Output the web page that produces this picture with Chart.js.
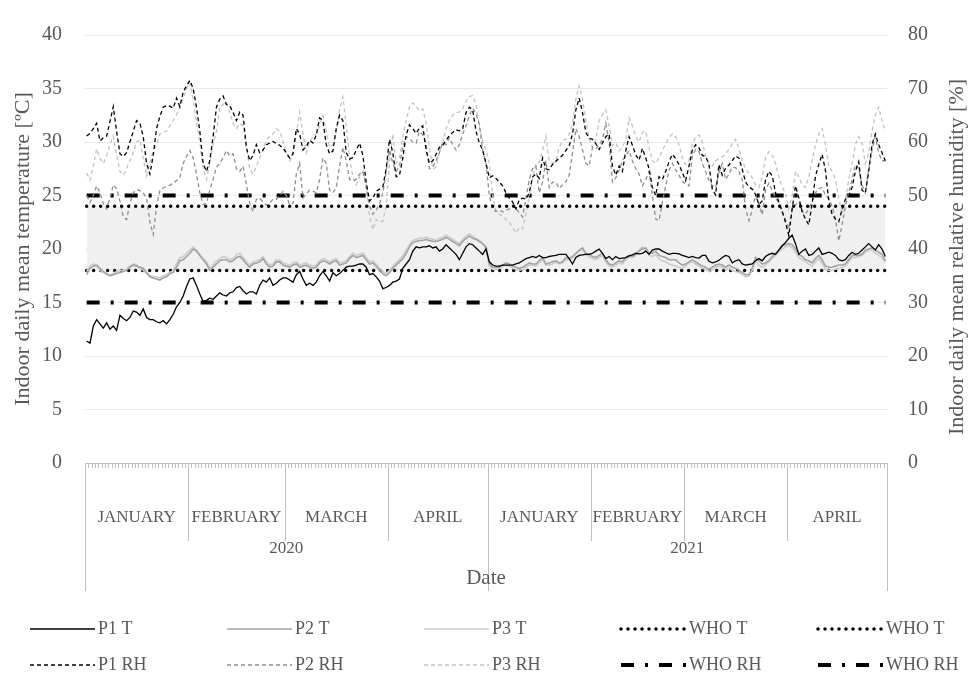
<!DOCTYPE html>
<html>
<head>
<meta charset="utf-8">
<script src="https://cdn.jsdelivr.net/npm/chart.js@4.4.1/dist/chart.umd.min.js"></script>
<style>
  html, body { margin: 0; padding: 0; background: #fff; }
  #wrap { width: 971px; height: 682px; position: relative; }
</style>
</head>
<body>
<div id="wrap"><canvas id="chart"></canvas></div>
<script>
const years = ['2020', '2021'];
const monthNames = ['JANUARY', 'FEBRUARY', 'MARCH', 'APRIL'];
const monthDays = [[31, 29, 31, 30], [31, 28, 31, 30]];

// daily mean temperature, ºC
const p1T = [
  11.4, 11.2, 12.8, 13.4, 13.0, 12.6, 13.1, 12.5, 12.8, 12.4,
  13.8, 13.5, 13.3, 13.6, 14.2, 14.1, 13.8, 14.4, 13.6, 13.4,
  13.4, 13.2, 13.1, 13.3, 13.0, 13.4, 13.9, 14.6, 15.0, 15.6,
  16.5, 17.2, 17.3, 16.6, 15.8, 15.1, 15.2, 15.4, 15.3, 15.6,
  15.9, 15.7, 15.6, 15.9, 16.0, 16.4, 16.5, 16.1, 15.8, 16.0,
  16.0, 15.8, 16.6, 17.1, 16.9, 17.3, 16.6, 16.8, 17.1, 17.3,
  17.3, 17.1, 16.9, 17.6, 17.9, 17.2, 16.6, 16.8, 16.6, 16.9,
  17.5, 17.9, 17.5, 17.0, 17.8, 17.5, 17.7, 18.0, 18.3, 18.4,
  18.4, 18.5, 18.6, 18.6, 18.3, 17.6, 17.7, 17.4, 17.0, 16.3,
  16.4, 16.6, 16.9, 17.0, 17.2, 18.2, 18.6, 19.0, 19.8, 20.2,
  20.1, 20.2, 20.2, 20.3, 20.1, 20.2, 19.8, 20.0, 20.4, 20.1,
  19.8, 19.5, 19.0, 19.6, 20.2, 20.5, 20.4, 20.1, 19.8, 19.5,
  20.0, 18.8, 18.5, 18.4, 18.4, 18.5, 18.5, 18.5, 18.5, 18.6,
  18.7, 18.9, 19.1, 19.2, 19.3, 19.2, 19.4, 19.2, 19.2, 19.3,
  19.35, 19.4, 19.5, 19.5, 19.5, 19.1, 18.6, 19.2, 19.4, 19.45,
  19.5, 19.5, 19.6, 19.8, 20.0, 19.6, 19.1, 19.3, 19.0, 19.3,
  19.1, 19.15, 19.2, 19.35, 19.45, 19.6, 19.55, 19.6, 19.8, 19.5,
  19.9, 20.0, 20.0, 19.8, 19.65, 19.5, 19.6, 19.6, 19.55, 19.4,
  19.3, 19.2, 19.3, 19.2, 19.15, 19.4, 19.4, 18.85, 18.7, 18.8,
  18.95, 19.2, 19.4, 19.3, 18.7, 18.9, 19.0, 18.6, 18.5, 18.55,
  18.6, 18.9, 19.1, 18.9, 19.3, 19.5, 19.6, 19.5, 19.9, 20.3,
  20.6, 21.0, 21.3, 20.5, 19.5, 19.8, 20.0, 19.4, 19.5, 19.8,
  20.1, 19.5, 19.6, 19.7, 19.6, 19.4, 19.0, 18.9, 19.0, 19.4,
  19.7, 19.5, 19.6, 19.9, 20.2, 20.5, 20.2, 19.9, 20.4, 20.0,
  19.3
];
const p2T = [
  17.6, 18.2, 18.4, 18.5, 18.2, 17.9, 17.7, 17.5, 17.6, 17.7,
  17.8, 17.9, 18.0, 18.3, 18.5, 18.4, 18.3, 18.2, 17.8, 17.4,
  17.3, 17.2, 17.1, 17.3, 17.4, 17.7, 17.8, 18.3, 18.9, 19.0,
  19.3, 19.6, 20.0, 19.8, 19.4, 19.0, 18.6, 18.0, 18.3, 18.6,
  18.9, 19.0, 19.0, 18.8, 18.9, 19.2, 19.3, 19.0, 18.6, 18.3,
  18.6, 18.7, 18.8, 19.1, 18.6, 18.3, 18.4, 18.8, 18.8, 18.5,
  18.4, 18.3, 18.5, 18.6, 18.3, 18.4, 18.5, 18.3, 18.2, 18.3,
  18.7, 18.9, 18.8, 18.6, 18.8, 18.9, 18.5, 18.6, 18.7, 19.1,
  19.4, 19.2, 19.3, 19.4, 19.0, 18.6, 18.7, 18.4, 18.0, 17.7,
  17.5, 17.8, 18.2, 18.5, 18.8, 19.1, 19.6, 20.2, 20.6, 20.7,
  20.8, 20.8, 20.9, 20.8, 20.7, 20.7, 20.8, 20.9, 21.1, 20.9,
  20.7, 20.5, 20.3, 20.7, 21.0, 21.2, 21.0, 20.9, 20.7, 20.5,
  20.2, 18.6, 18.3, 18.3, 18.3, 18.5, 18.7, 18.6, 18.4, 18.3,
  18.2, 18.3, 18.5, 18.7, 18.6, 18.6, 18.9, 19.2, 18.6, 18.7,
  18.8, 18.9, 18.7, 18.8, 19.2, 19.1, 19.3, 19.6, 19.9, 20.1,
  19.6, 19.5, 19.3, 19.2, 19.4, 19.6, 19.0, 18.6, 18.5, 18.7,
  18.9, 18.8, 19.2, 19.4, 19.3, 19.5, 19.8, 20.0, 20.1, 19.6,
  19.6, 19.8, 19.4, 19.3, 19.2, 19.0, 19.0, 19.0, 18.7, 18.5,
  18.6, 18.8, 19.0, 18.8, 18.6, 18.4, 18.3, 18.1, 18.3, 18.5,
  18.6, 18.5, 18.3, 18.5, 18.3, 18.2, 18.0, 17.8, 17.6, 17.6,
  18.2, 19.2, 18.9, 18.6, 18.7, 18.9, 19.3, 19.6, 19.9, 20.3,
  20.4, 20.5, 20.4, 20.0, 19.5, 19.3, 19.0, 18.9, 18.7, 19.1,
  19.4, 19.0, 18.4, 18.3, 18.3, 18.4, 18.5, 18.5, 18.6, 19.0,
  19.4, 19.4, 19.4, 19.5, 19.9, 20.0, 20.1, 19.9, 19.7, 19.5,
  18.9
];
const p3T = [
  17.9, 18.4, 18.6, 18.4, 18.0, 17.8, 17.6, 17.6, 17.7, 17.9,
  18.0, 18.0, 18.1, 18.4, 18.6, 18.5, 18.2, 18.0, 17.7, 17.5,
  17.4, 17.4, 17.3, 17.5, 17.6, 17.8, 18.0, 18.6, 19.2, 19.3,
  19.6, 19.9, 20.2, 19.9, 19.5, 19.1, 18.8, 18.2, 18.5, 18.9,
  19.1, 19.3, 19.2, 19.0, 19.1, 19.5, 19.6, 19.2, 18.8, 18.5,
  18.8, 18.9, 19.0, 19.3, 18.8, 18.5, 18.6, 19.0, 19.0, 18.7,
  18.6, 18.5, 18.7, 18.8, 18.5, 18.6, 18.7, 18.5, 18.4, 18.5,
  18.9, 19.1, 19.0, 18.8, 19.0, 19.1, 18.7, 18.8, 18.9, 19.3,
  19.6, 19.4, 19.5, 19.6, 19.2, 18.8, 18.9, 18.6, 18.2, 17.9,
  17.7, 18.0, 18.4, 18.7, 19.0, 19.4, 19.9, 20.4, 20.8, 20.9,
  21.0, 21.0, 21.1, 21.0, 20.9, 20.8, 21.0, 21.1, 21.3, 21.1,
  20.9, 20.7, 20.5, 20.9, 21.2, 21.4, 21.2, 21.0, 20.8, 20.5,
  20.0, 18.4, 18.1, 18.1, 18.2, 18.4, 18.5, 18.4, 18.2, 18.1,
  18.0, 18.1, 18.3, 18.5, 18.5, 18.4, 18.7, 19.0, 18.5, 18.5,
  18.6, 18.8, 18.6, 18.7, 19.0, 19.0, 19.2, 19.5, 19.8, 19.9,
  19.5, 19.3, 19.1, 19.0, 19.2, 19.4, 18.8, 18.4, 18.3, 18.5,
  18.7, 18.6, 19.0, 19.2, 19.2, 19.4, 19.9, 20.2, 19.9, 19.4,
  19.3, 19.5, 19.1, 18.9, 18.8, 18.6, 18.5, 18.4, 18.3, 18.2,
  18.4, 18.7, 18.8, 18.6, 18.4, 18.2, 18.1, 17.9, 18.1, 18.3,
  18.4, 18.3, 18.1, 18.2, 18.0, 17.9, 17.8, 17.6, 17.4, 17.5,
  18.0, 18.9, 18.5, 18.3, 18.5, 18.8, 19.1, 19.4, 19.7, 20.0,
  20.2, 20.3, 20.1, 19.7, 19.2, 19.0, 18.8, 18.6, 18.4, 18.8,
  19.1, 18.7, 18.1, 18.0, 18.0, 18.1, 18.2, 18.3, 18.4, 18.8,
  19.2, 19.2, 19.3, 19.4, 19.7, 19.9, 19.9, 19.6, 19.4, 19.2,
  18.7
];

// daily mean relative humidity, %
const p1RH = [
  61.1, 61.6, 62.5, 63.5, 60.2, 60.8, 61.1, 63.8, 66.6, 62.0,
  57.8, 57.3, 58.0, 60.0, 62.0, 64.0, 63.5, 61.0, 56.0, 54.0,
  57.5, 62.5, 64.8, 66.5, 66.8, 66.7, 66.3, 68.2, 66.6, 69.3,
  70.5, 71.5, 70.0, 66.5, 62.0, 56.0, 54.5, 56.5, 61.0, 66.5,
  68.0, 68.6, 67.0, 66.8, 65.5, 64.0, 65.6, 65.0, 59.0, 56.5,
  57.5, 59.5, 58.0, 58.5, 59.5, 59.8, 60.1, 59.7, 59.4, 58.8,
  58.0, 57.0, 57.8, 62.5, 61.5, 58.5, 59.2, 60.3, 59.8, 61.3,
  64.5, 64.0, 59.5, 57.8, 58.3, 62.5, 65.0, 64.0, 58.0, 56.8,
  57.1, 58.5, 59.8, 57.5, 52.5, 49.0, 49.5, 50.8, 51.2, 51.6,
  55.0, 60.5, 58.0, 53.5, 53.8, 57.0, 61.3, 63.2, 62.5, 61.6,
  62.6, 63.0, 58.5, 56.0, 56.5, 57.7, 59.0, 59.4, 60.3, 61.2,
  61.8, 62.3, 62.1, 62.5, 65.5, 66.5, 66.0, 62.0, 59.8, 58.5,
  56.0, 53.3, 53.7, 53.2, 52.5, 51.8, 50.5, 49.5, 48.8, 47.5,
  49.2, 49.5, 49.3, 50.5, 53.5, 54.0, 53.2, 57.0, 55.0, 54.8,
  55.8, 56.4, 57.0, 57.5, 58.4, 59.3, 61.5, 66.0, 68.2, 65.5,
  61.8, 60.7, 60.5, 59.7, 58.6, 59.8, 61.0, 61.5, 55.5, 53.8,
  55.5, 54.5, 58.4, 61.0, 59.4, 57.6, 56.6, 58.8, 57.0, 55.0,
  51.5, 50.0, 53.5, 53.0, 54.5, 56.3, 57.7, 56.9, 55.8, 54.3,
  52.8, 55.5, 58.5, 59.5, 58.9, 57.5, 57.3, 55.8, 51.2, 50.1,
  55.8, 53.8, 55.1, 55.7, 56.5, 57.4, 57.0, 54.9, 52.5, 51.6,
  51.2, 50.2, 48.3, 49.0, 52.9, 54.5, 53.7, 50.5, 48.8, 47.0,
  45.0, 42.5, 47.5, 51.8, 49.6, 47.0, 45.6, 44.5, 48.5, 53.6,
  55.8, 57.7, 54.7, 49.0, 46.5, 45.6, 45.1, 47.4, 49.3, 49.9,
  51.5, 54.5, 56.3, 51.0, 50.5, 54.5, 59.5, 61.5, 59.5, 58.0,
  56.5
];
const p2RH = [
  50.0, 48.7, 50.0, 51.8, 50.5, 48.5, 47.5, 49.5, 52.0, 51.3,
  49.0, 46.0, 45.5, 48.5, 50.5, 51.1, 50.9, 50.5, 49.5, 45.0,
  42.7, 48.0, 51.0, 51.4, 51.7, 51.9, 52.3, 52.8, 53.3, 56.0,
  57.3, 58.4, 57.0, 54.0, 50.5, 48.3, 48.6, 51.0, 53.0, 55.3,
  56.0, 57.0, 58.4, 57.4, 57.8, 55.0, 54.5, 55.5, 52.0, 48.5,
  47.0, 49.3, 49.5, 48.8, 48.2, 48.6, 49.3, 49.3, 50.0, 50.8,
  50.0, 48.3, 48.5, 54.0, 56.0, 49.5, 50.3, 51.0, 50.8, 50.5,
  53.0, 57.0, 56.0, 51.0, 50.5, 51.5, 55.5, 59.0, 56.5, 53.0,
  52.7, 53.0, 54.0, 54.5, 51.5, 48.2, 46.5, 47.2, 48.5, 50.5,
  54.5, 58.5, 56.0, 54.5, 55.5, 59.0, 61.0, 60.7, 60.0, 59.8,
  62.0, 61.3, 59.5, 55.0, 55.3, 56.5, 58.0, 60.0, 59.5, 60.8,
  59.5, 58.5, 59.5, 61.5, 63.0, 65.0, 66.3, 65.3, 63.3, 58.5,
  56.0, 50.0, 47.5, 47.0, 47.3, 46.9, 47.2, 47.5, 48.2, 47.5,
  46.8, 46.0, 49.5, 53.0, 55.0, 55.5, 50.5, 52.5, 56.5, 51.5,
  52.5, 52.5, 51.3, 52.0, 52.6, 53.8, 58.0, 62.5, 61.0, 58.5,
  56.0, 55.5, 59.0, 58.7, 59.5, 60.5, 63.5, 60.0, 52.5, 53.3,
  54.7, 56.5, 57.5, 58.4, 56.5, 55.0, 54.0, 51.8, 52.9, 54.5,
  50.0, 45.6, 45.3, 48.7, 51.8, 54.7, 56.0, 54.8, 53.8, 52.6,
  52.2, 51.8, 57.3, 58.6, 58.2, 56.0, 54.5, 52.8, 51.8, 51.5,
  54.2, 56.0, 53.0, 54.0, 55.3, 55.2, 54.5, 53.0, 47.5, 45.3,
  47.3, 50.0, 48.5, 46.4, 51.0, 52.3, 51.0, 49.5, 48.7, 47.0,
  45.5, 43.8, 47.5, 48.3, 48.7, 47.0, 46.5, 47.5, 48.8, 50.5,
  51.3, 51.5, 50.0, 49.5, 48.0, 45.6, 41.5, 44.5, 48.0, 50.5,
  53.0, 55.8, 55.0, 52.0, 50.5, 55.0, 58.5, 61.0, 58.0, 56.5,
  56.5
];
const p3RH = [
  54.2, 52.9, 55.5, 58.7, 57.0, 56.0, 57.5, 59.5, 61.1, 57.5,
  54.5, 53.8, 55.0, 56.5, 58.0, 60.0, 60.5, 57.0, 53.6, 56.0,
  58.4, 59.5, 61.5, 61.8, 62.0, 63.0, 64.0, 65.1, 66.5, 68.0,
  70.0, 71.1, 68.0, 63.5, 60.0, 55.0, 53.0, 56.0, 59.5, 62.0,
  66.5, 67.0, 67.5, 65.5, 63.5, 62.5, 63.5, 63.0, 59.0, 55.0,
  54.0, 55.5, 57.0, 58.5, 60.5, 61.0, 61.5, 62.5, 62.0, 60.0,
  58.0, 56.5, 57.5, 61.5, 65.6, 61.5, 58.0, 60.0, 61.0, 61.5,
  63.0, 65.0, 62.0, 59.0, 59.5, 62.0, 66.0, 68.4, 63.0, 57.0,
  53.5, 52.0, 53.5, 54.5, 52.0, 46.0, 43.6, 45.5, 45.0, 45.2,
  48.0, 56.0, 61.5, 56.0, 57.0, 61.0, 64.0, 66.5, 67.3, 66.6,
  65.8, 66.2, 63.5, 59.0, 55.0, 55.3, 58.0, 59.8, 62.5, 64.0,
  65.0, 65.5, 65.6, 66.3, 67.6, 68.5, 68.7, 67.0, 63.0, 60.0,
  58.5, 56.0, 50.0, 47.0, 46.5, 46.2, 45.5, 45.0, 44.0, 43.0,
  44.0, 43.8, 46.5, 50.0, 53.0, 56.0, 56.2, 58.5, 61.1, 56.5,
  56.0, 56.4, 59.0, 60.2, 60.6, 61.5, 63.5, 68.0, 70.5, 68.0,
  64.0, 60.5, 59.0, 60.5, 64.0, 65.1, 66.0, 63.0, 59.3, 59.8,
  58.4, 59.0, 60.5, 64.5, 63.0, 61.0, 60.0, 61.8, 62.0, 59.0,
  56.5, 56.0, 57.0, 58.5, 59.6, 60.8, 61.5, 61.0, 59.5, 57.0,
  55.8, 56.5, 59.5, 61.0, 61.3, 60.0, 57.5, 56.0, 55.5, 56.5,
  56.9, 57.2, 57.8, 58.6, 59.6, 60.5, 58.8, 56.5, 55.0, 54.2,
  53.3, 52.0, 51.5, 53.5, 57.0, 58.2, 57.5, 56.0, 53.5, 51.5,
  50.5, 47.5, 50.0, 54.5, 53.5, 52.0, 51.5, 53.5, 56.5, 59.5,
  61.5, 62.5, 59.5, 55.5, 54.5, 53.0, 49.5, 46.5, 49.0, 53.0,
  56.0, 59.5, 61.0, 59.8, 56.0, 58.0, 62.0, 65.0, 66.5, 64.0,
  62.0
];

// WHO recommended limits
const whoT = [24, 18];
const whoRH = [50, 30];

// build the day categories plus the month / year groups for the axis
const labels = [];
const monthGroups = [];
const yearGroups = [];
years.forEach((year, yi) => {
  const yStart = labels.length;
  monthNames.forEach((name, mi) => {
    const mStart = labels.length;
    for (let day = 1; day <= monthDays[yi][mi]; day++) {
      labels.push(day + ' ' + name + ' ' + year);
    }
    monthGroups.push({ name: name, start: mStart, end: labels.length });
  });
  yearGroups.push({ name: year, start: yStart, end: labels.length });
});

const grey = '#595959';
const serif = "'Liberation Serif', 'Times New Roman', serif";
const flat = v => labels.map(() => v);

const datasets = [
  { label: 'P1 T', data: p1T, yAxisID: 'y', borderColor: '#000000', borderWidth: 1.3 },
  { label: 'P2 T', data: p2T, yAxisID: 'y', borderColor: '#a3a3a3', borderWidth: 1.6 },
  { label: 'P3 T', data: p3T, yAxisID: 'y', borderColor: '#cccccc', borderWidth: 1.6 },
  { label: 'WHO T', data: flat(whoT[0]), yAxisID: 'y', borderColor: '#000000', borderWidth: 3.5,
    borderDash: [0, 7], borderCapStyle: 'round', fill: '+1', backgroundColor: '#f0f0f0' },
  { label: 'WHO T', data: flat(whoT[1]), yAxisID: 'y', borderColor: '#000000', borderWidth: 3.5,
    borderDash: [0, 7], borderCapStyle: 'round' },
  { label: 'P1 RH', data: p1RH, yAxisID: 'y1', borderColor: '#000000', borderWidth: 1.3, borderDash: [4, 3] },
  { label: 'P2 RH', data: p2RH, yAxisID: 'y1', borderColor: '#8f8f8f', borderWidth: 1.3, borderDash: [4, 3] },
  { label: 'P3 RH', data: p3RH, yAxisID: 'y1', borderColor: '#c3c3c3', borderWidth: 1.3, borderDash: [4, 3] },
  { label: 'WHO RH', data: flat(whoRH[0]), yAxisID: 'y1', borderColor: '#000000', borderWidth: 4,
    borderDash: [13, 11, 3, 11] },
  { label: 'WHO RH', data: flat(whoRH[1]), yAxisID: 'y1', borderColor: '#000000', borderWidth: 4,
    borderDash: [13, 11, 3, 11] }
];
datasets.forEach(d => { d.pointRadius = 0; d.tension = 0; if (!d.fill) d.fill = false; });

// grouped month / year axis, right title and the legend grid
const decor = {
  id: 'decor',
  afterDraw(chart) {
    const { ctx, chartArea } = chart;
    const x = chart.scales.x;
    const half = (x.getPixelForValue(1) - x.getPixelForValue(0)) / 2;
    const edge = i => x.getPixelForValue(i) - half;
    const y0 = chartArea.bottom;

    ctx.save();
    ctx.strokeStyle = '#bfbfbf';
    ctx.lineWidth = 1;
    ctx.beginPath();
    for (let i = 0; i <= labels.length; i++) {
      const px = Math.round(edge(i)) + 0.5;
      ctx.moveTo(px, y0);
      ctx.lineTo(px, y0 + 5);
    }
    monthGroups.forEach(g => {
      const px = Math.round(edge(g.start)) + 0.5;
      ctx.moveTo(px, y0);
      ctx.lineTo(px, y0 + 78);
    });
    yearGroups.forEach(g => {
      [g.start, g.end].forEach(i => {
        const px = Math.round(edge(i)) + 0.5;
        ctx.moveTo(px, y0);
        ctx.lineTo(px, y0 + 128);
      });
    });
    ctx.stroke();

    ctx.fillStyle = grey;
    ctx.textAlign = 'center';
    ctx.textBaseline = 'middle';
    ctx.font = '17px ' + serif;
    monthGroups.forEach(g => ctx.fillText(g.name, (edge(g.start) + edge(g.end)) / 2, y0 + 55));
    yearGroups.forEach(g => ctx.fillText(g.name, (edge(g.start) + edge(g.end)) / 2, y0 + 86));
    ctx.font = '21px ' + serif;
    ctx.fillText('Date', (chartArea.left + chartArea.right) / 2, y0 + 115);

    // right axis title, reading bottom to top like the left one
    ctx.save();
    ctx.font = '22px ' + serif;
    ctx.translate(chart.width - 14, (chartArea.top + chartArea.bottom) / 2 + 8);
    ctx.rotate(-Math.PI / 2);
    ctx.fillText('Indoor daily mean relative humidity [%]', 0, 0);
    ctx.restore();

    // legend: two rows of five
    const rows = [[0, 1, 2, 3, 4], [5, 6, 7, 8, 9]];
    ctx.textAlign = 'left';
    ctx.font = '18px ' + serif;
    rows.forEach((row, r) => {
      const ly = y0 + 166 + r * 36;
      row.forEach((di, c) => {
        const ds = chart.data.datasets[di];
        const lx = 30 + c * 197;
        ctx.save();
        ctx.strokeStyle = ds.borderColor;
        ctx.lineWidth = ds.borderWidth;
        ctx.lineCap = ds.borderCapStyle || 'butt';
        ctx.setLineDash(ds.borderDash || []);
        ctx.beginPath();
        ctx.moveTo(lx, ly);
        ctx.lineTo(lx + 65, ly);
        ctx.stroke();
        ctx.restore();
        ctx.fillText(ds.label, lx + 68, ly);
      });
    });
    ctx.restore();
  }
};

new Chart(document.getElementById('chart'), {
  type: 'line',
  data: { labels: labels, datasets: datasets },
  plugins: [decor],
  options: {
    responsive: true,
    maintainAspectRatio: false,
    animation: false,
    layout: { padding: { top: 23, left: 0, right: 0, bottom: 0 } },
    plugins: {
      legend: { display: false },
      tooltip: { enabled: false },
      filler: { drawTime: 'beforeDatasetsDraw' }
    },
    scales: {
      x: {
        type: 'category',
        offset: true,
        grid: { display: false },
        border: { display: true, color: '#bfbfbf' },
        ticks: { display: false },
        afterFit: s => { s.height = 219; }
      },
      y: {
        position: 'left',
        min: 0,
        max: 40,
        ticks: { stepSize: 5, color: grey, font: { family: serif, size: 20 }, padding: 23 },
        grid: { color: '#e8e8e8', drawTicks: false },
        border: { display: false },
        title: {
          display: true,
          text: 'Indoor daily mean temperature [ºC]',
          color: grey,
          font: { family: serif, size: 22 },
          padding: { top: 10, bottom: 0 }
        },
        afterFit: s => { s.width = 85; }
      },
      y1: {
        position: 'right',
        min: 0,
        max: 80,
        ticks: { stepSize: 10, color: grey, font: { family: serif, size: 20 }, padding: 21 },
        grid: { display: false, drawTicks: false },
        border: { display: false },
        afterFit: s => { s.width = 84; }
      }
    }
  }
});
</script>
</body>
</html>
